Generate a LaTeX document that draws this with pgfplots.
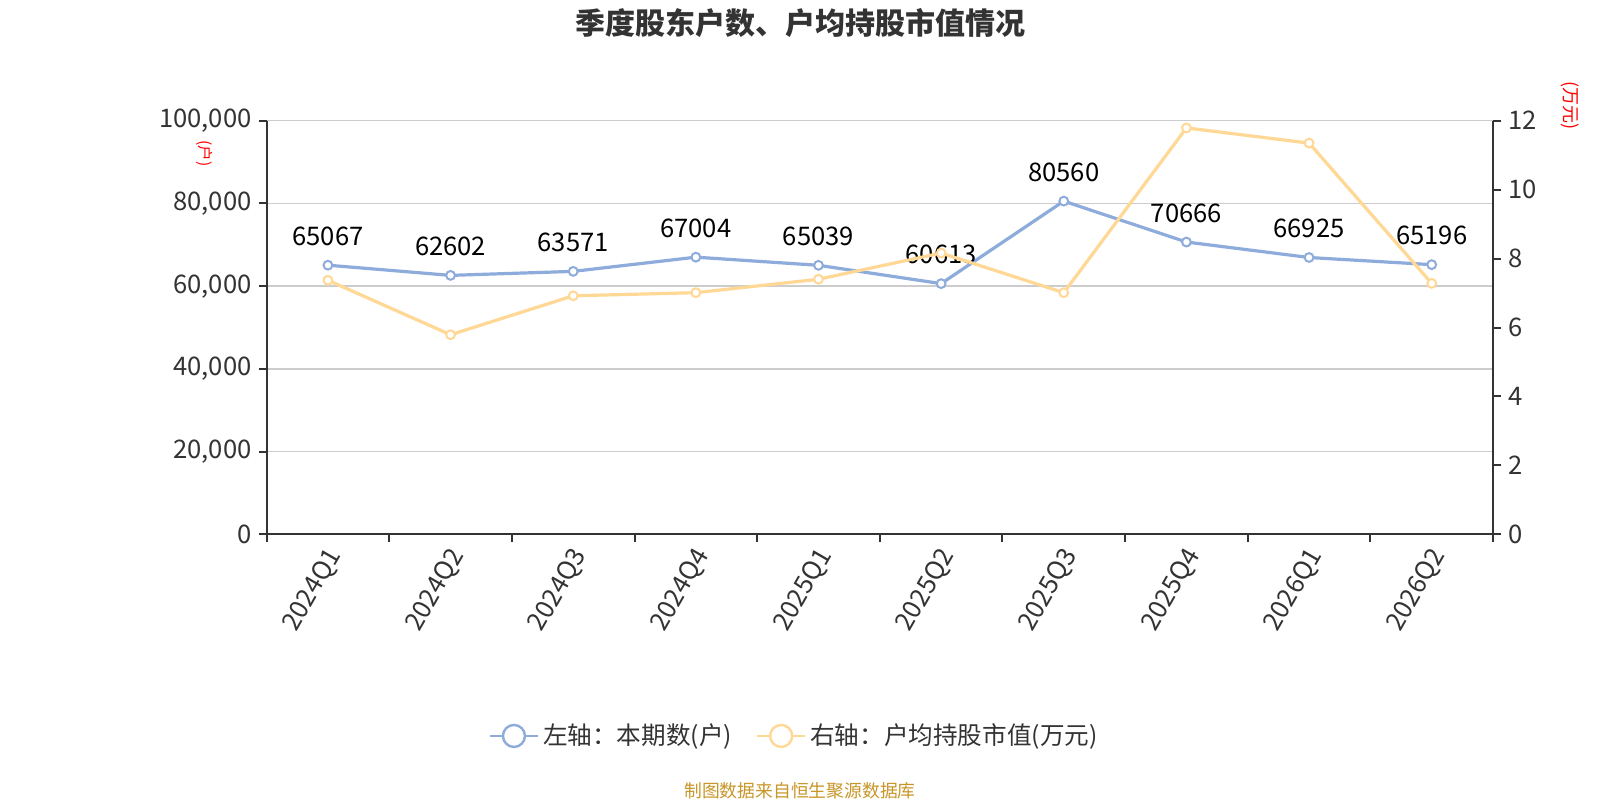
\documentclass[border=0pt]{standalone}
\usepackage{fontspec}
\setmainfont{Noto Sans CJK SC}
\usepackage{pgfplots}
\pgfplotsset{compat=1.18}
\definecolor{cblue}{RGB}{142,172,219}
\definecolor{cyel}{RGB}{255,216,150}
\definecolor{tickc}{RGB}{51,51,51}
\definecolor{gridc}{RGB}{204,204,204}
\definecolor{srcc}{RGB}{200,150,40}
\pgfplotsset{
  base/.style={
    at={(133.3pt,132.85pt)}, anchor=south west,
    scale only axis, width=613.2pt, height=206.8pt,
    xmin=-0.5, xmax=9.5,
    tick align=outside,
    major tick length=4pt, minor tick length=4pt,
    tick label style={font=\fontsize{12.8}{14}\selectfont, text=tickc},
    /pgf/number format/assume math mode=true,
    axis line style={draw=tickc, line width=1pt, -},
    ytick style={draw=tickc, line width=1pt},
  },
}
\begin{document}
\begin{tikzpicture}[x=1pt,y=1pt]
\useasboundingbox (0,0) rectangle (800,400);
\fill[white] (0,0) rectangle (800,400);
\begin{axis}[base,
  ymin=0, ymax=100000,
  axis x line*=bottom, axis y line*=left,
  ytick={0,20000,40000,60000,80000,100000},
  scaled y ticks=false,
  yticklabel style={/pgf/number format/.cd, fixed, 1000 sep={,}},
  ymajorgrids, major y grid style={draw=gridc, line width=0.7pt},
  xtick={0,...,9},
  xticklabels={2024Q1,2024Q2,2024Q3,2024Q4,2025Q1,2025Q2,2025Q3,2025Q4,2026Q1,2026Q2},
  major x tick style={draw=none},
  minor xtick={-0.5,0.5,...,9.5},
  minor x tick style={draw=tickc, line width=1pt},
  xticklabel style={rotate=60, anchor=east, xshift=1.5pt, yshift=-5.5pt},
  legend style={at={(0.431,-0.4875)}, anchor=center, legend columns=2, draw=none, fill=none,
    font=\fontsize{12.3}{14}\selectfont, text=tickc,
    /tikz/every even column/.append style={column sep=10pt}},
  legend cell align=left,
  legend image code/.code={
    \draw[#1, line width=1.2pt] (0pt,0pt) -- (24pt,0pt);
    \draw[#1, fill=white, line width=1.2pt] (12pt,0pt) circle (5.5pt);
  },
]
\addplot[color=cblue, line width=1.6pt, mark=*, mark size=2.2pt,
  mark options={fill=white, draw=cblue, line width=1pt},
  nodes near coords, point meta=explicit symbolic,
  nodes near coords style={font=\fontsize{12.8}{14}\selectfont, text=black, anchor=south, yshift=6pt}]
coordinates {
(0,65067)[65067] (1,62602)[62602] (2,63571)[63571] (3,67004)[67004] (4,65039)[65039]
(5,60613)[60613] (6,80560)[80560] (7,70666)[70666] (8,66925)[66925] (9,65196)[65196]
};
\addlegendentry{左轴：本期数(户)}
\addlegendimage{color=cyel}
\addlegendentry{右轴：户均持股市值(万元)}
\end{axis}
\begin{axis}[base,
  ymin=0, ymax=12,
  axis y line*=right, axis x line=none,
  ytick={0,2,4,6,8,10,12},
]
\addplot[color=cyel, line width=1.6pt, mark=*, mark size=2.2pt,
  mark options={fill=white, draw=cyel, line width=1pt}]
coordinates {
(0,7.37) (1,5.79) (2,6.92) (3,7.01) (4,7.40)
(5,8.16) (6,7.01) (7,11.79) (8,11.35) (9,7.28)
};
\end{axis}
\node[font=\bfseries\fontsize{15}{17}\selectfont, text=tickc] at (400,388.7) {季度股东户数、户均持股市值情况};
\node[rotate=-90, text=red, font=\fontsize{7.8}{9}\selectfont] at (102.3,323.2) {(户)};
\node[rotate=-90, text=red, font=\fontsize{9}{10}\selectfont] at (785,347) {(万元)};
\node[text=srcc, font=\fontsize{8.9}{10}\selectfont] at (400,4.5) {制图数据来自恒生聚源数据库};
\end{tikzpicture}
\end{document}
